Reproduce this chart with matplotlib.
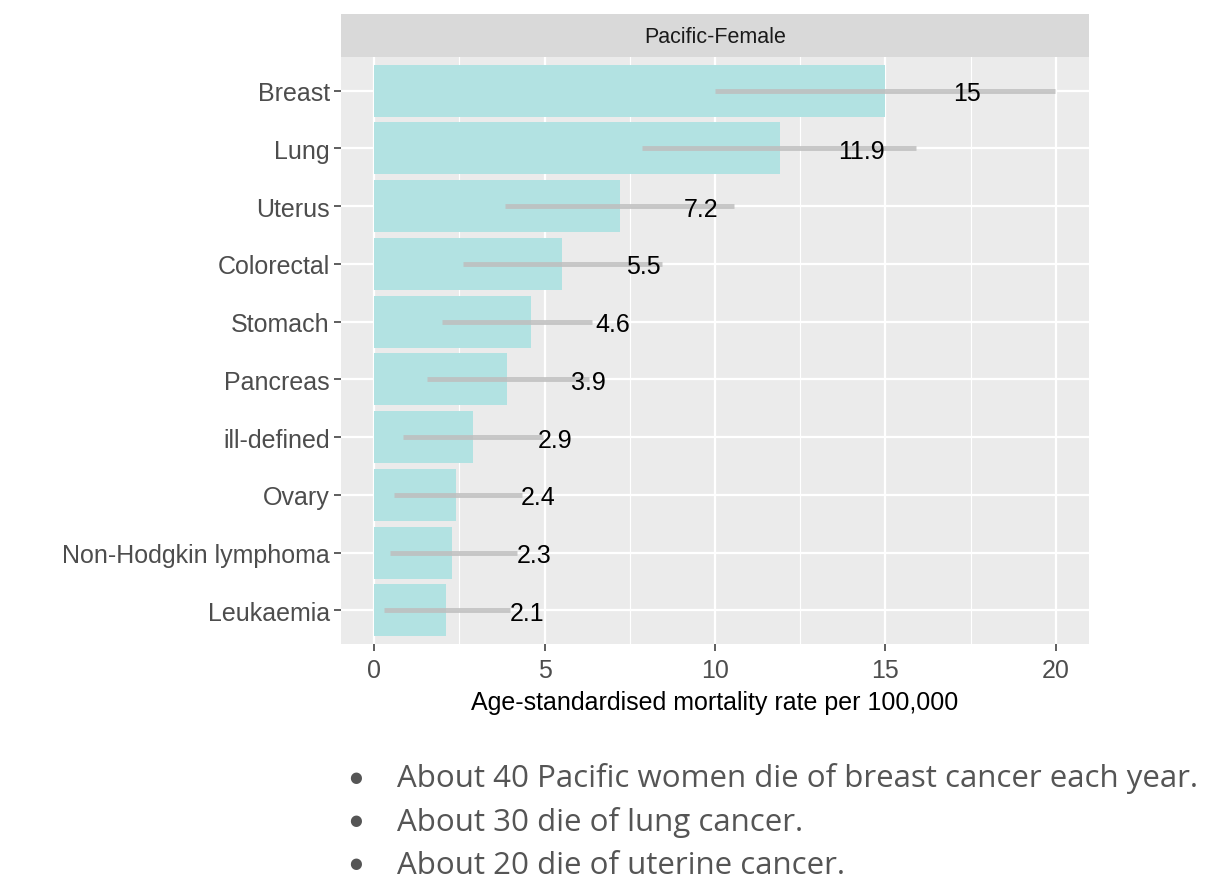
import matplotlib.pyplot as plt
import numpy as np

# data
cancers = ["Breast", "Lung", "Uterus", "Colorectal", "Stomach", "Pancreas",
           "ill-defined", "Ovary", "Non-Hodgkin lymphoma", "Leukaemia"]
rates = [15.0, 11.9, 7.2, 5.5, 4.6, 3.9, 2.9, 2.4, 2.3, 2.1]
lower = [10.0, 7.85, 3.85, 2.6, 2.0, 1.55, 0.85, 0.57, 0.48, 0.3]
upper = [19.97, 15.9, 10.55, 8.45, 6.4, 6.3, 4.95, 4.33, 4.2, 3.98]
rate_labels = ["15", "11.9", "7.2", "5.5", "4.6", "3.9", "2.9", "2.4", "2.3", "2.1"]
strip_title = "Pacific-Female"
bullets = ["About 40 Pacific women die of breast cancer each year.",
           "About 30 die of lung cancer.",
           "About 20 die of uterine cancer."]

W, H = 1221, 879
fig = plt.figure(figsize=(W / 100, H / 100), dpi=100)
plt.rcParams['font.family'] = ['Liberation Sans', 'DejaVu Sans']

# panel position in pixels
px0, px1, py0, py1 = 341, 1089, 58, 645
ax = fig.add_axes([px0 / W, 1 - py1 / H, (px1 - px0) / W, (py1 - py0) / H])
ax.set_facecolor("#EBEBEB")

n = len(cancers)
ypos = np.arange(n)[::-1] + 1  # Breast on top

ax.barh(ypos, rates, height=0.9, color="#B2E2E2", zorder=2)
ax.hlines(ypos, lower, upper, color="#BEBEBE", lw=3.5, alpha=0.85, zorder=3)
for y, r, lab in zip(ypos, rates, rate_labels):
    ax.text(r + 2.4, y, lab, ha="center", va="center_baseline", fontsize=18,
            color="black", zorder=4)

ax.set_xlim(-0.97, 20.97)
ax.set_ylim(0.42, n + 0.58)
ax.set_xticks([0, 5, 10, 15, 20])
ax.set_xticks([2.5, 7.5, 12.5, 17.5], minor=True)
ax.set_yticks(ypos)
ax.set_yticklabels(cancers)
ax.grid(which="major", color="white", lw=1.6, zorder=0)
ax.grid(which="minor", axis="x", color="white", lw=0.8, zorder=0)
ax.set_axisbelow(True)
for s in ax.spines.values():
    s.set_visible(False)
ax.tick_params(axis="both", which="major", length=5, width=1.1, color="#333333",
               labelsize=18, labelcolor="#4D4D4D")
ax.tick_params(axis="x", which="major", pad=5)
ax.tick_params(axis="y", which="major", pad=3)
ax.tick_params(axis="both", which="minor", length=0)
ax.set_xlabel("Age-standardised mortality rate per 100,000", fontsize=18,
              color="black", labelpad=6)

# facet strip
sx = fig.add_axes([px0 / W, 1 - py0 / H, (px1 - px0) / W, (py0 - 15) / H])
sx.set_facecolor("#D9D9D9")
sx.set_xticks([])
sx.set_yticks([])
for s in sx.spines.values():
    s.set_visible(False)
sx.text(0.5, 0.48, strip_title, ha="center", va="center", fontsize=15.5,
        color="#1A1A1A", transform=sx.transAxes)

# bullet notes
for i, line in enumerate(bullets):
    yy = 1 - (777 + 43.5 * i) / H
    fig.text(356 / W, yy, "\u25CF", ha="center", va="center", fontsize=10.5,
             color="#555555", family=["DejaVu Sans"])
    fig.text(397 / W, yy - 2 / H, line, ha="left", va="center", fontsize=22.5,
             color="#555555", family=["Open Sans", "DejaVu Sans"])

fig.savefig("out.png", dpi=100)
